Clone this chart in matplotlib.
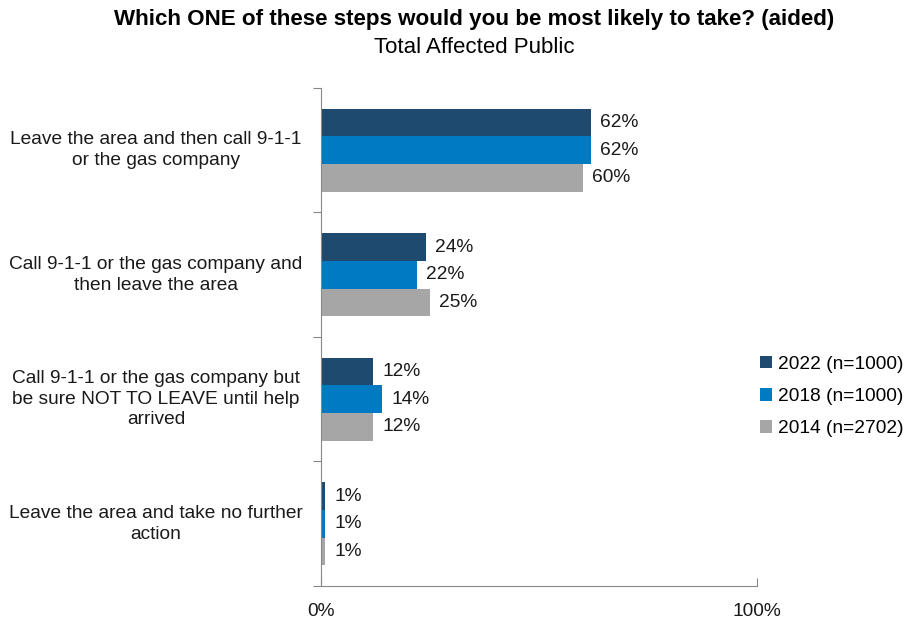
import matplotlib.pyplot as plt
import matplotlib.transforms as mtransforms
import numpy as np

plt.rcParams['font.family'] = ['Liberation Sans', 'DejaVu Sans']

categories = ['Leave the area and then call 9-1-1\nor the gas company',
              'Call 9-1-1 or the gas company and\nthen leave the area',
              'Call 9-1-1 or the gas company but\nbe sure NOT TO LEAVE until help\narrived',
              'Leave the area and take no further\naction']
series_names = ['2022 (n=1000)', '2018 (n=1000)', '2014 (n=2702)']
vals_2022 = [62, 24, 12, 1]
vals_2018 = [62, 22, 14, 1]
vals_2014 = [60, 25, 12, 1]
colors = ['#1F4A70', '#007AC2', '#A6A6A6']

fs = 13.8
fig = plt.figure(figsize=(9.08, 6.21), dpi=100)
ax = fig.add_axes([0.3535, 0.0564, 0.4802, 0.8019])

y = np.arange(len(categories))
h = 0.222
for i, (vals, name, c) in enumerate(zip([vals_2022, vals_2018, vals_2014], series_names, colors)):
    pos = y + (i - 1) * h
    ax.barh(pos, np.array(vals) / 100, height=h, color=c, label=name)
    for p, v in zip(pos, vals):
        ax.annotate(f'{v}%', (v / 100, p), xytext=(9, 0), textcoords='offset pixels',
                    ha='left', va='center', fontsize=fs, color='#1a1a1a')

ax.set_xlim(0, 1)
ax.set_ylim(len(categories) - 0.5, -0.5)

# category labels centred in the left margin
trans = mtransforms.blended_transform_factory(fig.transFigure, ax.transData)
for yi, lab in zip(y, categories):
    ax.text(156 / 908, yi, lab, transform=trans, ha='center', va='center',
            multialignment='center', fontsize=fs, color='#1a1a1a', linespacing=1.28)

ax.set_yticks(np.arange(-0.5, len(categories), 1.0))
ax.set_yticklabels([])
ax.set_xticks([0, 1])
ax.set_xticklabels(['0%', '100%'], fontsize=fs, color='#1a1a1a')
ax.tick_params(axis='y', direction='out', length=6, color='#888888')
ax.tick_params(axis='x', direction='in', length=6, color='#888888', pad=12)
for s in ['top', 'right']:
    ax.spines[s].set_visible(False)
for s in ['left', 'bottom']:
    ax.spines[s].set_color('#888888')

fig.text(474.5 / 908, 0.969, 'Which ONE of these steps would you be most likely to take? (aided)',
         ha='center', va='center', fontsize=16.1, fontweight='bold')
fig.text(474.5 / 908, 0.923, 'Total Affected Public', ha='center', va='center', fontsize=16)

fig.legend(loc='upper left', bbox_to_anchor=(752 / 908, 1 - 348 / 621), frameon=False,
           fontsize=fs, handlelength=0.65, handleheight=0.65, handletextpad=0.3,
           labelspacing=0.78, borderaxespad=0)

fig.savefig('out.png', dpi=100)
